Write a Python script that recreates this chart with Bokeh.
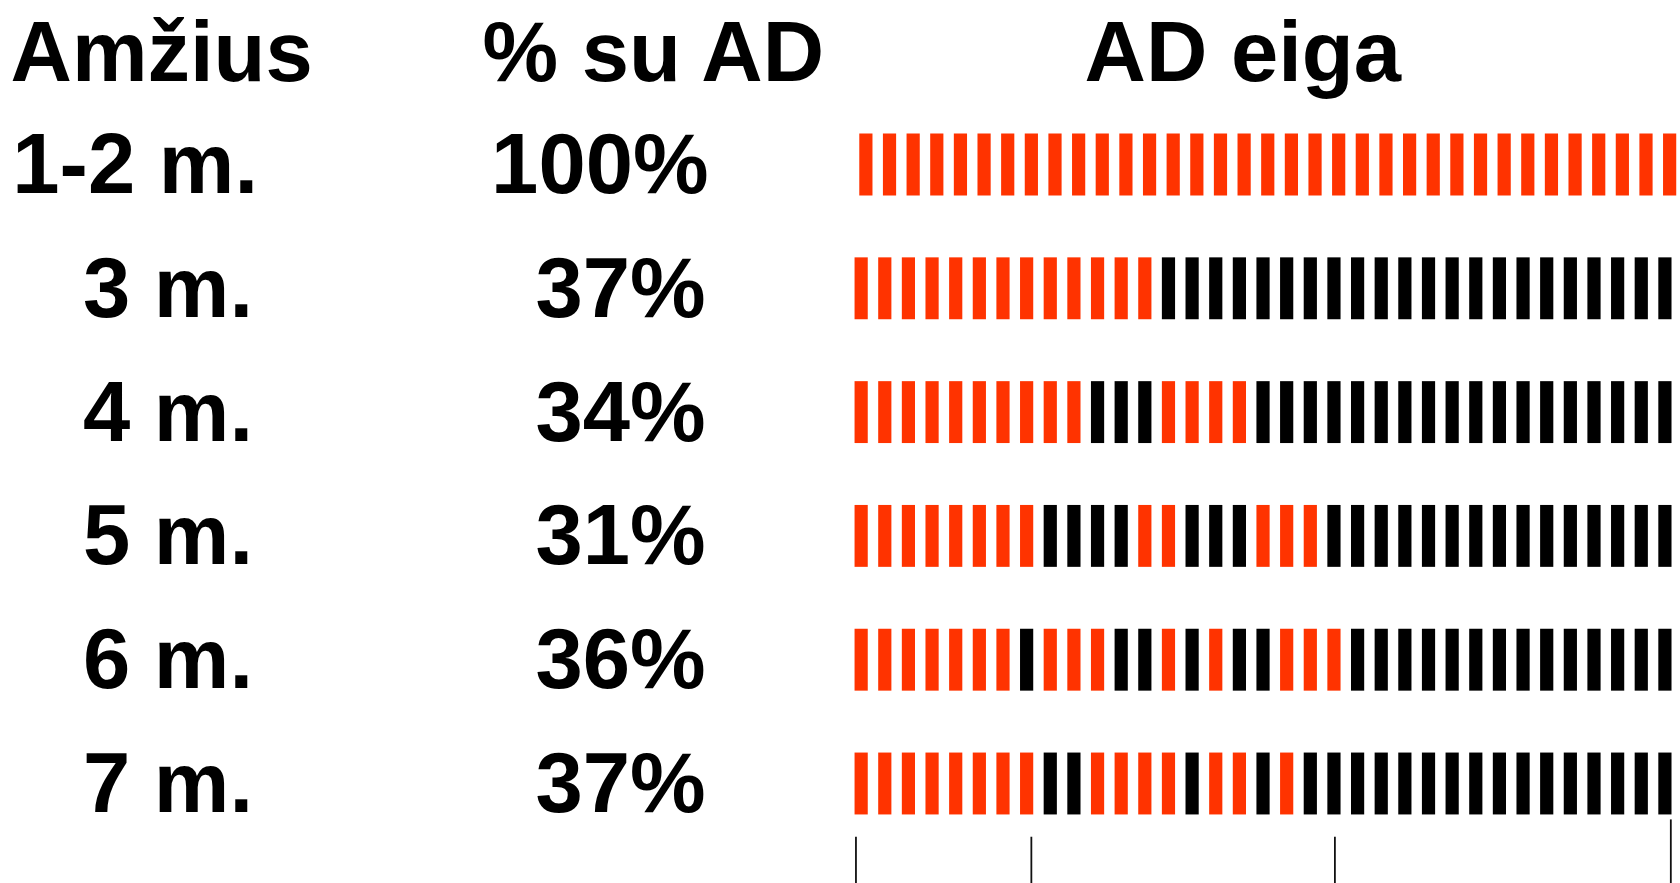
from bokeh.plotting import figure
from bokeh.models import Range1d, Label, ColumnDataSource
from bokeh.embed import file_html
from bokeh.resources import INLINE

# ---- data ----
headers = ["Amžius", "% su AD", "AD eiga"]
ages = ["1-2 m.", "3 m.", "4 m.", "5 m.", "6 m.", "7 m."]
shares = ["100%", "37%", "34%", "31%", "36%", "37%"]
# course of AD per row as run-lengths: (1 = AD present / red, 0 = absent / black)
course_runs = [
    [(1, 35)],
    [(1, 13), (0, 22)],
    [(1, 10), (0, 3), (1, 4), (0, 18)],
    [(1, 8), (0, 4), (1, 2), (0, 3), (1, 3), (0, 15)],
    [(1, 7), (0, 1), (1, 3), (0, 2), (1, 1), (0, 1), (1, 1), (0, 2), (1, 3), (0, 14)],
    [(1, 8), (0, 2), (1, 4), (0, 1), (1, 2), (0, 1), (1, 1), (0, 16)],
]
# timeline markers below the chart (in bar-index units)
marker_pos = [-0.22, 7.2, 20.04, 34.25]
marker_top = [5.43, 5.43, 5.43, 5.29]

# ---- layout / style ----
RED = "#FF3300"
BLACK = "#000000"
FONT = "Liberation Sans"
FSIZE = "85px"
W, H = 1680, 883
PITCH = 23.64           # px per bar
X0_PX = 860.65          # px of bar 0 centre
ROW = 123.8             # px per row
Y0_PX = 164.0           # px of row 0 centre
BAR_W = 13.2 / PITCH
TEXT_DY = 32.0 / ROW    # renderer baseline compensation
HEADER_Y = -0.75 + 12.0 / ROW
row_shift = [0.2, 0, 0, 0, 0, 0]
age_right = [257.5, 252.5, 252.5, 252.5, 252.5, 252.5]
share_right = [708, 705, 705, 705, 705, 705]
header_left = [10, 482, 1084]

x_start = -X0_PX / PITCH
x_end = x_start + W / PITCH
y_top = -Y0_PX / ROW
y_bottom = y_top + H / ROW

p = figure(width=W, height=H,
           x_range=Range1d(x_start, x_end),
           y_range=Range1d(y_bottom, y_top),
           output_backend="svg", toolbar_location=None,
           x_axis_location=None, y_axis_location=None,
           min_border=0)
p.grid.visible = False
p.outline_line_color = None
p.background_fill_color = "white"
p.border_fill_color = "white"

xs, ys, cols = [], [], []
for r, runs in enumerate(course_runs):
    i = 0
    for state, n in runs:
        for _ in range(n):
            xs.append(i + row_shift[r])
            ys.append(r)
            cols.append(RED if state == 1 else BLACK)
            i += 1
src = ColumnDataSource(dict(x=xs, y=ys, c=cols))
p.rect(x="x", y="y", width=BAR_W, height=0.5, fill_color="c", line_color=None, source=src)

p.segment(x0=marker_pos, y0=marker_top, x1=marker_pos, y1=[6.5] * len(marker_pos),
          line_color="#111111", line_width=1.8)

def add_label(x, y, text, align):
    p.add_layout(Label(x=x, y=y - TEXT_DY, x_units="screen", y_units="data", text=text,
                       text_align=align, text_baseline="alphabetic",
                       text_font=FONT, text_font_size=FSIZE, text_font_style="bold",
                       text_color="black"))

for k, h in enumerate(headers):
    add_label(header_left[k], HEADER_Y, h, "left")
for r in range(len(ages)):
    add_label(age_right[r], r + 0.25, ages[r], "right")
    add_label(share_right[r], r + 0.25, shares[r], "right")

open("out.html", "w").write(file_html(p, INLINE))
